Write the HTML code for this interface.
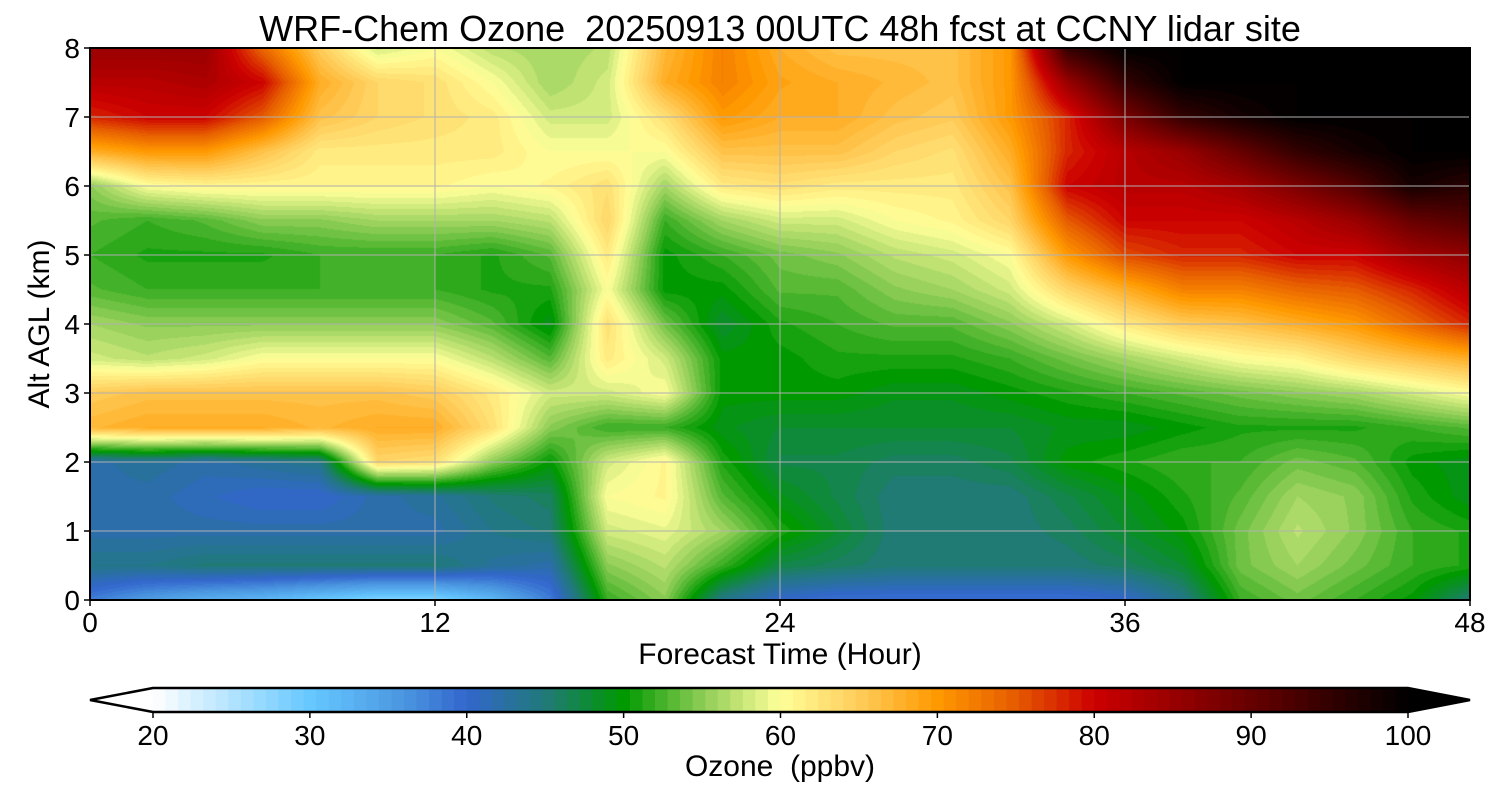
<!DOCTYPE html>
<html><head><meta charset="utf-8">
<style>
html,body{margin:0;padding:0;background:#fff;}
body{width:1500px;height:800px;position:relative;overflow:hidden;font-family:"Liberation Sans","DejaVu Sans",sans-serif;color:#000;}
.t{position:absolute;white-space:nowrap;}
</style></head><body>
<div class="t" style="left:0;width:1560px;text-align:center;top:8px;font-size:36px;">WRF-Chem Ozone&nbsp; 20250913 00UTC 48h fcst at CCNY lidar site</div>
<canvas id="plot" width="1380" height="552" style="position:absolute;left:90px;top:48px;"></canvas>
<svg id="ov" width="1500" height="800" style="position:absolute;left:0;top:0;"></svg>
<div class="t" style="left:0;width:1560px;text-align:center;top:638px;font-size:30px;">Forecast Time (Hour)</div>
<div class="t" style="left:40px;top:324px;font-size:30px;transform:translate(-50%,-50%) rotate(-90deg);">Alt AGL (km)</div>
<div class="t" style="left:0;width:1560px;text-align:center;top:750px;font-size:30px;">Ozone&nbsp; (ppbv)</div>
<script>
const hours=[0,2,4,6,8,10,12,14,16,18,20,22,24,26,28,30,32,34,36,38,40,42,44,46,48];
const altsTop=[8,7.5,7,6.5,6,5.5,5,4.5,4,3.5,3,2.5,2,1.5,1,0.5,0];
const ozone=[
[85,82,78,68,55,53,52,53,56,58,65,67,42,42,42,44,38],
[85,82,80,70,60,52,51,52,55,57,66,68,43,42,42,44,35],
[85,83,80,70,61,53,51,52,55,58,66,68,42,41,42,45,33],
[74,80,75,66,61,55,51,52,55,60,66,68,43,40,42,45,32],
[65,68,66,62,61,55,52,52,55,60,66,67,44,40,42,45,30],
[58,64,64,62,61,56,52,52,55,60,66,68,64,42,42,45,28],
[60,63,63,62,61,56,52,52,55,60,65,68,63,43,42,45,28],
[57,60,62,62,60,56,51,51,53,57,62,63,55,45,44,43,32],
[56,56,58,60,61,57,53,51,49,53,58,55,50,46,45,42,38],
[57,58,58,60,63,64,62,60,63,62,58,52,58,60,58,55,52],
[67,68,63,60,56,52,50,50,54,58,60,52,61,61,59,57,55],
[72,72,70,66,62,56,52,50,48,50,50,49,51,53,56,52,44],
[68,69,68,66,63,58,54,53,51,50,50,48,47,49,51,47,40],
[66,68,68,66,62,58,55,53,52,51,50,48,47,47,48,46,39],
[66,67,66,64,62,60,57,55,53,51,49,48,46,45,45,45,39],
[66,66,65,63,62,61,58,56,53,51,49,48,46,45,45,45,39],
[70,70,70,68,66,64,60,58,55,52,50,48,47,45,45,45,39],
[95,85,78,78,80,75,70,64,58,54,51,49,50,47,46,45,39],
[100,95,88,82,82,80,76,68,62,56,52,49,51,49,48,46,40],
[100,100,95,85,82,80,78,72,65,58,53,50,52,51,50,48,44],
[100,100,98,90,84,80,78,72,66,60,54,51,52,53,54,54,52],
[100,100,100,95,88,82,80,74,68,61,55,51,54,56,57,56,54],
[100,100,100,98,92,85,80,75,70,64,56,51,53,55,55,54,52],
[100,100,100,100,98,90,84,78,74,66,58,52,50,51,52,52,50],
[100,100,100,100,96,92,86,82,78,68,60,53,49,49,51,51,45]
];
const cbTicks=[20,30,40,50,60,70,80,90,100];
const xTicks=[0,12,24,36,48];
const yTicks=[0,1,2,3,4,5,6,7,8];

const stops=[[20,[255,255,255]],[30,[102,200,255]],[36,[74,150,224]],[40,[51,102,204]],[45,[32,122,120]],[50,[0,153,0]],[55,[140,204,85]],[60,[255,255,153]],[65,[255,204,90]],[70,[255,153,0]],[75,[230,92,0]],[80,[204,0,0]],[90,[102,0,0]],[100,[0,0,0]]];
function cmap(v){
  if(v<=20)return stops[0][1]; if(v>=100)return stops[stops.length-1][1];
  for(let i=0;i<stops.length-1;i++){const a=stops[i],b=stops[i+1];
    if(v>=a[0]&&v<=b[0]){const t=(v-a[0])/(b[0]-a[0]);return a[1].map((c,k)=>Math.round(c+(b[1][k]-c)*t));}}
}
function quant(v){const s=0.8;return Math.floor((v-20)/s)*s+20+s/2;}
const PX0=90,PX1=1470,PY0=48,PY1=600;
const xs=h=>PX0+(h-0)/(48-0)*(PX1-PX0);
const ys=a=>PY1-(a/8)*(PY1-PY0);

const cv=document.getElementById('plot'),ctx=cv.getContext('2d');
const W=cv.width,H=cv.height,img=ctx.createImageData(W,H);
for(let py=0;py<H;py++){
  const alt=8-(py+0.5)/H*8;
  let ai=0;while(ai<altsTop.length-2&&altsTop[ai+1]>alt)ai++;
  const ta=(altsTop[ai]-alt)/(altsTop[ai]-altsTop[ai+1]);
  for(let px=0;px<W;px++){
    const hr=(px+0.5)/W*48;
    let hi=0;while(hi<hours.length-2&&hours[hi+1]<hr)hi++;
    const th=(hr-hours[hi])/(hours[hi+1]-hours[hi]);
    const v=(ozone[hi][ai]*(1-ta)+ozone[hi][ai+1]*ta)*(1-th)+(ozone[hi+1][ai]*(1-ta)+ozone[hi+1][ai+1]*ta)*th;
    const c=cmap(quant(v));const o=(py*W+px)*4;
    img.data[o]=c[0];img.data[o+1]=c[1];img.data[o+2]=c[2];img.data[o+3]=255;
  }
}
ctx.putImageData(img,0,0);

const NS='http://www.w3.org/2000/svg',ov=document.getElementById('ov');
function mk(tag,attrs,parent){const e=document.createElementNS(NS,tag);for(const k in attrs)e.setAttribute(k,attrs[k]);(parent||ov).appendChild(e);return e;}
xTicks.forEach(h=>{const l=mk('line',{x1:xs(h),x2:xs(h),y1:PY0,y2:PY1,stroke:'#b0b0b0','stroke-width':1});

});
yTicks.forEach(a=>{const l=mk('line',{x1:PX0,x2:PX1,y1:ys(a),y2:ys(a),stroke:'#b0b0b0','stroke-width':1});

});
const fr=mk('rect',{x:PX0,y:PY0,width:PX1-PX0,height:PY1-PY0,fill:'none',stroke:'#000','stroke-width':2});


xTicks.forEach(h=>{mk('line',{x1:xs(h),x2:xs(h),y1:PY1,y2:PY1+6,stroke:'#000','stroke-width':1.5});
const t=mk('text',{x:xs(h),y:632,'font-size':28,'text-anchor':'middle','font-family':'Liberation Sans, sans-serif'});t.textContent=h;

});
yTicks.forEach(a=>{mk('line',{x1:PX0-6,x2:PX0,y1:ys(a),y2:ys(a),stroke:'#000','stroke-width':1.5});
const t=mk('text',{x:PX0-10,y:ys(a)+10,'font-size':28,'text-anchor':'end','font-family':'Liberation Sans, sans-serif'});t.textContent=a;

});
const CB0=153,CB1=1408,CBY0=688,CBY1=712;
const cx=v=>CB0+(v-20)/80*(CB1-CB0);
const cb=mk('g',{});


for(let v=20;v<100-1e-6;v+=0.8){mk('rect',{x:cx(v),y:CBY0,width:cx(v+0.8)-cx(v)+0.6,height:CBY1-CBY0,fill:'rgb('+cmap(v+0.4).join(',')+')'},cb);}
mk('polygon',{points:`${CB0},${CBY0} 90,${(CBY0+CBY1)/2} ${CB0},${CBY1}`,fill:'#fff'},cb);
mk('polygon',{points:`${CB1},${CBY0} 1470,${(CBY0+CBY1)/2} ${CB1},${CBY1}`,fill:'#000'},cb);
mk('polygon',{points:`${CB0},${CBY0} 90,${(CBY0+CBY1)/2} ${CB0},${CBY1} ${CB1},${CBY1} 1470,${(CBY0+CBY1)/2} ${CB1},${CBY0}`,fill:'none',stroke:'#000','stroke-width':2.5},cb);
cbTicks.forEach(v=>{mk('line',{x1:cx(v),x2:cx(v),y1:CBY1,y2:CBY1+6,stroke:'#000','stroke-width':1.5});
const t=mk('text',{x:cx(v),y:745,'font-size':28,'text-anchor':'middle','font-family':'Liberation Sans, sans-serif'});t.textContent=v;

});
</script>
</body></html>
